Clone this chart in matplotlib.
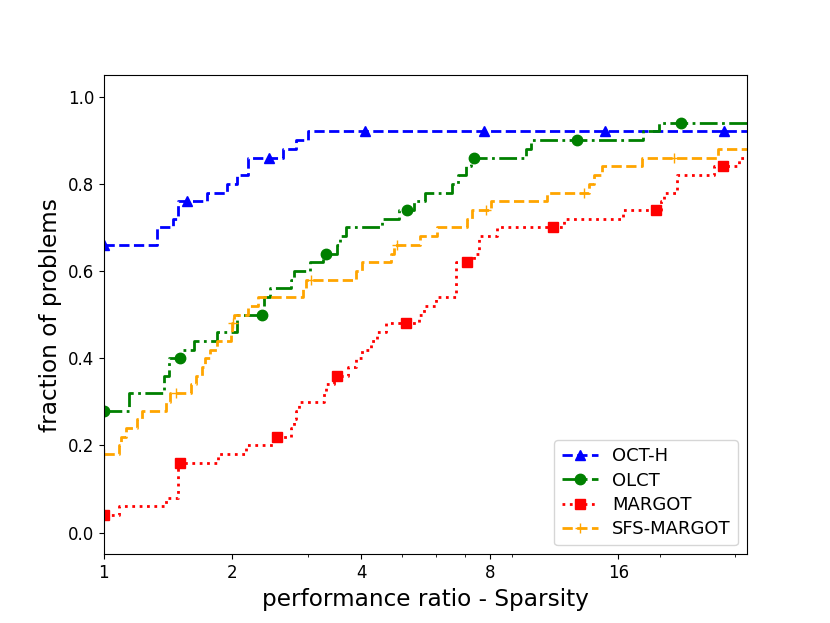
import matplotlib
matplotlib.use("Agg")
import matplotlib.pyplot as plt
from matplotlib.ticker import NullFormatter

plt.rcParams["font.size"] = 12

# ---- performance profile data: (tau, fraction of problems), step "post" ----
octh_tau = [1.00, 1.33, 1.45, 1.495, 1.564, 1.74, 1.94, 2.055, 2.17, 2.43, 2.63,
            2.81, 3.00, 4.08, 7.75, 14.88, 28.3, 32]
octh_frac = [0.66, 0.70, 0.72, 0.76, 0.76, 0.78, 0.80, 0.82, 0.86, 0.86, 0.88,
             0.90, 0.92, 0.92, 0.92, 0.92, 0.92, 0.92]
octh_marks = [0, 4, 9, 13, 14, 15, 16]

olct_tau = [1.00, 1.146, 1.384, 1.42, 1.506, 1.522, 1.627, 1.845, 2.055, 2.346,
            2.37, 2.45, 2.74, 2.78, 3.03, 3.25, 3.32, 3.51, 3.58, 3.68, 4.49,
            4.90, 5.13, 5.31, 5.66, 6.54, 6.73, 7.03, 7.22, 7.35, 9.71, 9.97,
            12.82, 18.3, 19.9, 22.37, 32]
olct_frac = [0.28, 0.32, 0.36, 0.40, 0.40, 0.42, 0.44, 0.46, 0.50, 0.50,
             0.54, 0.56, 0.58, 0.60, 0.62, 0.64, 0.64, 0.66, 0.68, 0.70, 0.72,
             0.74, 0.74, 0.76, 0.78, 0.80, 0.82, 0.84, 0.86, 0.86, 0.88, 0.90,
             0.90, 0.92, 0.94, 0.94, 0.94]
olct_marks = [0, 4, 9, 16, 22, 29, 32, 35]

margot_tau = [1.00, 1.084, 1.396, 1.495, 1.506, 1.848, 2.149, 2.485, 2.549,
              2.738, 2.78, 2.81, 2.86, 3.27, 3.31, 3.45, 3.52, 3.72, 3.89,
              4.03, 4.21, 4.37, 4.57, 5.09, 5.46, 5.60, 5.98, 6.66, 7.09, 7.34,
              7.54, 8.34, 11.24, 11.93, 16.4, 19.62, 20.08, 20.5, 21.97, 26.8,
              28.15, 30.57, 32]
margot_frac = [0.04, 0.06, 0.08, 0.16, 0.16, 0.18, 0.20, 0.22, 0.22,
               0.24, 0.26, 0.28, 0.30, 0.32, 0.34, 0.36, 0.36, 0.38, 0.40,
               0.42, 0.44, 0.46, 0.48, 0.48, 0.50, 0.52, 0.54, 0.62, 0.62, 0.64,
               0.68, 0.70, 0.70, 0.72, 0.74, 0.74, 0.76, 0.78, 0.82, 0.84,
               0.84, 0.86, 0.86]
margot_marks = [0, 4, 8, 16, 23, 28, 32, 35, 40]

sfs_tau = [1.00, 1.086, 1.10, 1.126, 1.199, 1.227, 1.396, 1.427, 1.474, 1.604,
           1.64, 1.695, 1.73, 1.77, 1.845, 1.98, 2.00, 2.007, 2.02, 2.17, 2.30,
           2.92, 2.98, 3.05, 3.89, 4.03, 4.69, 4.77, 4.86, 5.51, 6.01, 7.09,
           7.26, 7.83, 8.04, 10.9, 13.29, 13.63, 14.0, 14.67, 18.2, 21.57,
           27.3, 32]
sfs_frac = [0.18, 0.20, 0.22, 0.24, 0.26, 0.28, 0.30, 0.32, 0.32, 0.34,
            0.36, 0.38, 0.40, 0.42, 0.44, 0.46, 0.48, 0.48, 0.50, 0.52, 0.54,
            0.56, 0.58, 0.58, 0.60, 0.62, 0.64, 0.66, 0.66, 0.68, 0.70, 0.72,
            0.74, 0.74, 0.76, 0.78, 0.78, 0.80, 0.82, 0.84, 0.86, 0.86,
            0.88, 0.88]
sfs_marks = [0, 8, 17, 23, 28, 33, 36, 41]

xticks = [1, 2, 4, 8, 16]

fig, ax = plt.subplots(figsize=(8.3, 6.23), dpi=100)

ax.step(octh_tau, octh_frac, where="post", color="blue", linestyle="--", lw=2,
        marker="^", markersize=7.5, markevery=octh_marks, label="OCT-H")
ax.step(olct_tau, olct_frac, where="post", color="green", linestyle="-.", lw=2,
        marker="o", markersize=7.5, markevery=olct_marks, label="OLCT")
ax.step(margot_tau, margot_frac, where="post", color="red", linestyle=":", lw=2,
        marker="s", markersize=7.5, markevery=margot_marks, label="MARGOT")
ax.step(sfs_tau, sfs_frac, where="post", color="orange", linestyle="--", lw=2,
        marker="+", markersize=7.5, markevery=sfs_marks, label="SFS-MARGOT")

ax.set_xscale("log")
ax.set_xlim(1, 32)
ax.set_ylim(-0.05, 1.05)
ax.set_xticks(xticks)
ax.set_xticklabels([str(t) for t in xticks])
ax.xaxis.set_minor_formatter(NullFormatter())

ax.set_xlabel("performance ratio - Sparsity", fontsize=16.7)
ax.set_ylabel("fraction of problems", fontsize=16.7)
ax.legend(loc="lower right", fontsize=13, labelspacing=0.35)

plt.savefig("out.png")
